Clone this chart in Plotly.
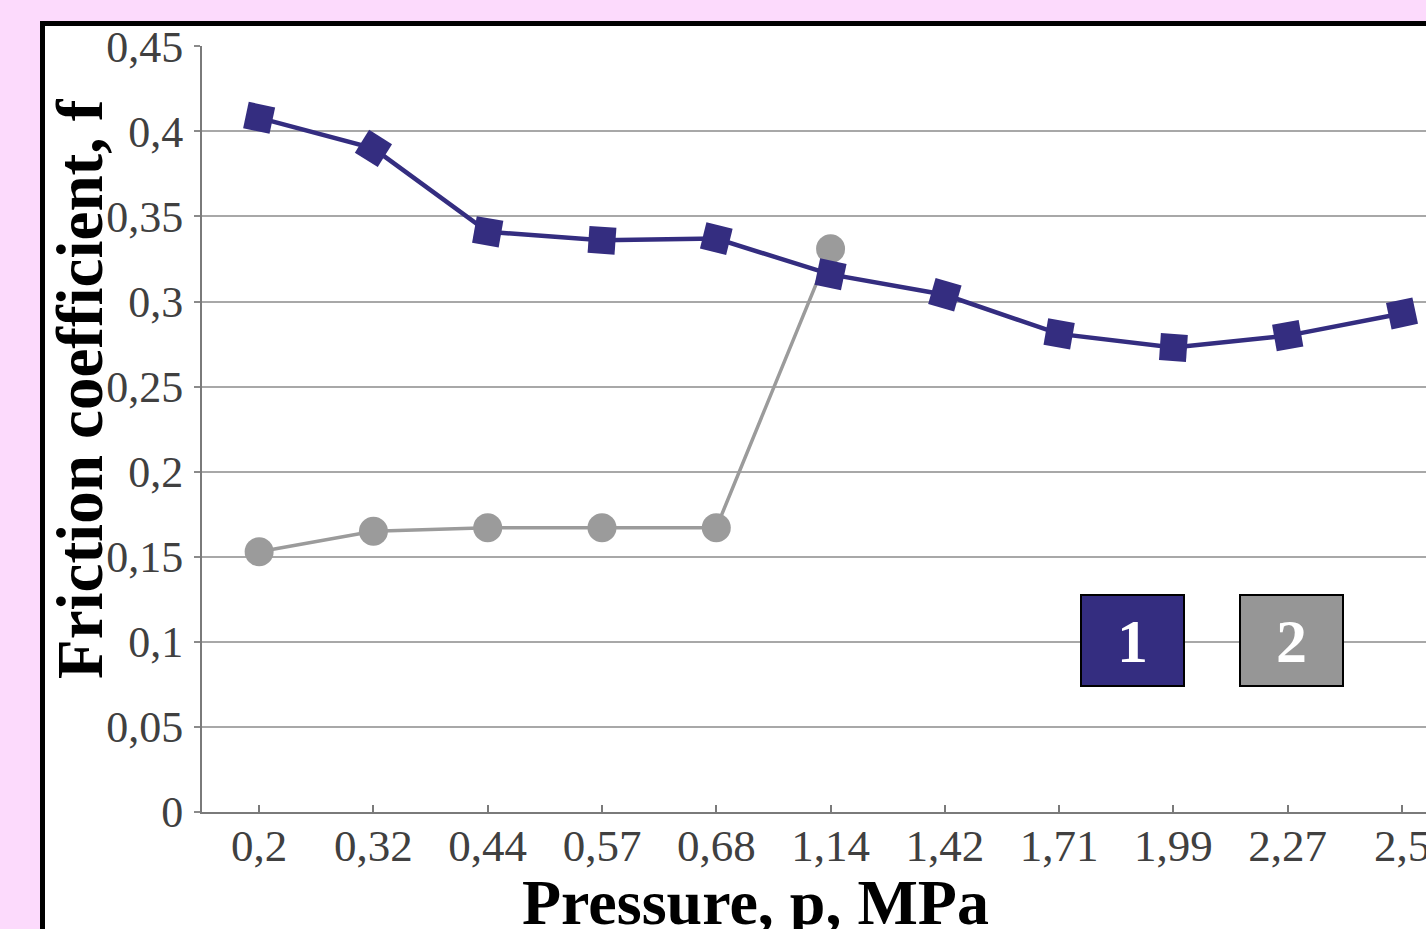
import plotly.graph_objects as go

# Pressure levels (MPa) shown as categories on the x axis
pressure = ["0,2", "0,32", "0,44", "0,57", "0,68", "1,14", "1,42", "1,71", "1,99", "2,27", "2,5"]

# Friction coefficient, series 1 (all pressures)
friction_1 = [0.408, 0.390, 0.341, 0.336, 0.337, 0.316, 0.304, 0.281, 0.273, 0.280, 0.293]

# Friction coefficient, series 2 (measured up to 1,14 MPa)
friction_2 = [0.153, 0.165, 0.167, 0.167, 0.167, 0.331]

# Series labels shown in the key boxes
series_labels = ["1", "2"]

BLUE = "#342d80"
GRAY = "#9b9b9b"
PINK = "#fcdafc"
SERIF = "Liberation Serif, Times New Roman, serif"

# slight tilt of each square marker, following the local slope of the line
square_tilt = [12, 32, 10, 4, 14, 12, 16, 10, 4, -10, -12]

W, H = 1426, 929
L, R, T, B = 202, 0, 46, 117
pw, ph = W - L - R, H - T - B


def px_to_paper_x(px):
    return (px - L) / pw


def px_to_paper_y(py):
    return (H - B - py) / ph


fig = go.Figure()

fig.add_trace(go.Scatter(
    x=pressure[:len(friction_2)], y=friction_2,
    mode="lines+markers",
    line=dict(color=GRAY, width=3.5),
    marker=dict(symbol="circle", size=29, color=GRAY),
    showlegend=False, cliponaxis=False,
))

fig.add_trace(go.Scatter(
    x=pressure, y=friction_1,
    mode="lines+markers",
    line=dict(color=BLUE, width=4.5),
    marker=dict(symbol="square", size=27, color=BLUE, angle=square_tilt),
    showlegend=False, cliponaxis=False,
))

# white panel with a heavy black frame behind the plot
fig.add_shape(
    type="rect", xref="paper", yref="paper", layer="below",
    x0=px_to_paper_x(42.5), x1=px_to_paper_x(1500),
    y0=px_to_paper_y(1000), y1=px_to_paper_y(23.5),
    fillcolor="white", line=dict(color="black", width=5),
)

# key boxes
key_boxes = [(1132.5, BLUE), (1291, "#969696")]
for label, (cx, fill) in zip(series_labels, key_boxes):
    fig.add_annotation(
        x=px_to_paper_x(cx), y=px_to_paper_y(640.5), xref="paper", yref="paper",
        text="<b>%s</b>" % label, showarrow=False,
        font=dict(family=SERIF, size=62, color="white"),
        bgcolor=fill, bordercolor="black", borderwidth=2, borderpad=0,
        width=101, height=89, align="center", valign="middle",
        xanchor="center", yanchor="middle",
    )

# axis titles
fig.add_annotation(
    x=px_to_paper_x(755), y=px_to_paper_y(902), xref="paper", yref="paper",
    text="<b>Pressure, p, MPa</b>", showarrow=False,
    font=dict(family=SERIF, size=64, color="black"),
    xanchor="center", yanchor="middle",
)
fig.add_annotation(
    x=px_to_paper_x(80), y=px_to_paper_y(389), xref="paper", yref="paper",
    text="<b>Friction coefficient, f</b>", showarrow=False, textangle=-90,
    font=dict(family=SERIF, size=65, color="black"),
    xanchor="center", yanchor="middle",
)

fig.update_xaxes(
    type="category", range=[-0.5, 10.21],
    showgrid=False, showline=True, linecolor="#7a7a7a", linewidth=2,
    ticks="inside", ticklen=7, tickwidth=1.5, tickcolor="#7a7a7a",
    tickfont=dict(family=SERIF, size=45, color="#404040"),
    ticklabelstandoff=-7, automargin=False,
)
fig.update_yaxes(
    range=[0, 0.4502], dtick=0.05, tick0=0,
    showgrid=True, gridcolor="#a8a8a8", gridwidth=2, zeroline=False,
    showline=True, linecolor="#7a7a7a", linewidth=2,
    ticks="outside", ticklen=6, tickwidth=2, tickcolor="#8a8a8a",
    tickfont=dict(family=SERIF, size=44, color="#404040"),
    ticklabelstandoff=2, automargin=False,
)

fig.update_layout(
    width=W, height=H,
    margin=dict(l=L, r=R, t=T, b=B, pad=0),
    paper_bgcolor=PINK, plot_bgcolor="rgba(0,0,0,0)",
    separators=", ",
    showlegend=False,
)

fig.write_html("out.html")
